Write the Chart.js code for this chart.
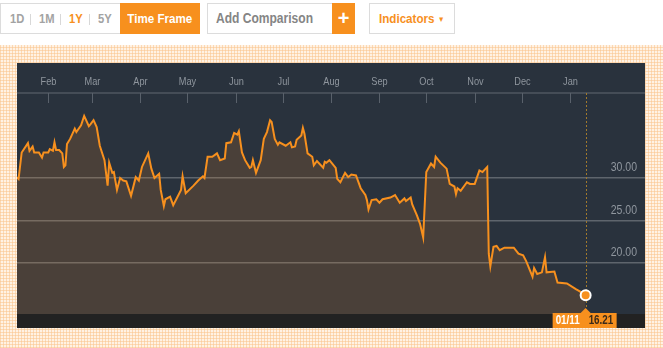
<!DOCTYPE html>
<html>
<head>
<meta charset="utf-8">
<script src="https://cdn.jsdelivr.net/npm/chart.js@4/dist/chart.umd.min.js"></script>
<style>
  html, body { margin: 0; padding: 0; background: #fff; width: 663px; height: 348px; overflow: hidden;
    font-family: "Liberation Sans", Arial, sans-serif; }
  .box { position: absolute; top: 3px; height: 31px; box-sizing: border-box; border: 1px solid #dcdcdc; background: #fff; }
  .lbl { position: absolute; top: 0; line-height: 29px; font-size: 13px; font-weight: bold; color: #a3a3a3;
    white-space: nowrap; transform: scaleX(0.86); transform-origin: 0 50%; }
  .btn { position: absolute; top: -1px; height: 31px; line-height: 31px; background: #f7901e; color: #fff;
    text-align: center; font-weight: bold; white-space: nowrap; }
  .btn span { display: inline-block; transform: scaleX(0.86); }
  .sep { position: absolute; top: 10px; width: 1px; height: 11px; background: #d8d8d8; }
  #pattern { position: absolute; left: 0; top: 45px; width: 663px; height: 303px; background-color: #fff2e4;
    background-image:
      repeating-linear-gradient(0deg, rgba(250, 196, 140, .55) 0 1px, transparent 1px 3px),
      repeating-linear-gradient(90deg, rgba(250, 196, 140, .55) 0 1px, transparent 1px 3px); }
  #panel { position: absolute; left: 17px; top: 63px; width: 628px; height: 265px; }
</style>
</head>
<body>
<div class="box" style="left:0;width:200px;">
  <span class="lbl" style="left:9px;">1D</span>
  <span class="sep" style="left:29px;"></span>
  <span class="lbl" style="left:38px;">1M</span>
  <span class="sep" style="left:59px;"></span>
  <span class="lbl" style="left:68px;color:#f7901e;">1Y</span>
  <span class="sep" style="left:88px;"></span>
  <span class="lbl" style="left:97px;">5Y</span>
  <div class="btn" style="left:119px;width:80px;font-size:13.5px;"><span>Time Frame</span></div>
</div>
<div class="box" style="left:207px;width:148px;">
  <span class="lbl" style="left:8px;color:#858585;font-size:14px;">Add Comparison</span>
  <div class="btn" style="left:124px;width:23px;font-size:20px;line-height:30px;">+</div>
</div>
<div class="box" style="left:369px;width:86px;">
  <span class="lbl" style="left:9px;color:#f7901e;font-size:13.5px;">Indicators <span style="font-size:8px;vertical-align:1px;">&#9660;</span></span>
</div>
<div id="pattern"></div>
<div id="panel"><canvas id="priceChart" width="628" height="265"></canvas></div>

<script>
// price history
const dates = [
  '2015-01-12','2015-01-13','2015-01-15','2015-01-19','2015-01-20','2015-01-22','2015-01-23','2015-01-26','2015-01-28','2015-01-29',
  '2015-02-01','2015-02-02','2015-02-04','2015-02-05','2015-02-06','2015-02-08','2015-02-10','2015-02-11','2015-02-12','2015-02-13',
  '2015-02-15','2015-02-18','2015-02-19','2015-02-22','2015-02-24','2015-02-27','2015-02-28','2015-03-02','2015-03-04','2015-03-06',
  '2015-03-09','2015-03-11','2015-03-12','2015-03-14','2015-03-15','2015-03-17','2015-03-19','2015-03-21','2015-03-23','2015-03-26',
  '2015-03-29','2015-03-31','2015-04-02','2015-04-06','2015-04-08','2015-04-10','2015-04-13','2015-04-14','2015-04-16','2015-04-17',
  '2015-04-20','2015-04-22','2015-04-27','2015-04-28','2015-04-30','2015-05-05','2015-05-08','2015-05-11','2015-05-12','2015-05-14',
  '2015-05-17','2015-05-20','2015-05-22','2015-05-25','2015-05-26','2015-05-29','2015-05-31','2015-06-02','2015-06-03','2015-06-05',
  '2015-06-07','2015-06-10','2015-06-11','2015-06-12','2015-06-14','2015-06-17','2015-06-19','2015-06-21','2015-06-23','2015-06-24',
  '2015-06-26','2015-06-28','2015-06-29','2015-07-03','2015-07-06','2015-07-07','2015-07-09','2015-07-10','2015-07-13','2015-07-14',
  '2015-07-15','2015-07-17','2015-07-20','2015-07-21','2015-07-23','2015-07-27','2015-07-28','2015-07-29','2015-07-31','2015-08-04',
  '2015-08-05','2015-08-07','2015-08-10','2015-08-12','2015-08-14','2015-08-17','2015-08-20','2015-08-23','2015-08-24','2015-08-25',
  '2015-08-27','2015-08-30','2015-09-01','2015-09-03','2015-09-08','2015-09-11','2015-09-14','2015-09-17','2015-09-18','2015-09-21',
  '2015-09-22','2015-09-25','2015-09-27','2015-09-29','2015-10-01','2015-10-04','2015-10-06','2015-10-07','2015-10-10','2015-10-14',
  '2015-10-16','2015-10-19','2015-10-20','2015-10-21','2015-10-23','2015-10-27','2015-10-29','2015-11-01','2015-11-04','2015-11-06',
  '2015-11-08','2015-11-09','2015-11-10','2015-11-11','2015-11-13','2015-11-15','2015-11-17','2015-11-20','2015-11-26','2015-11-29',
  '2015-12-02','2015-12-04','2015-12-08','2015-12-09','2015-12-11','2015-12-14','2015-12-16','2015-12-17','2015-12-22','2015-12-24',
  '2015-12-30','2016-01-05','2016-01-07','2016-01-11'
];
const prices = [
  30.1, 29.9, 33.0, 34.1, 33.2, 33.7, 33.0, 33.0, 32.4, 33.0,
  33.0, 33.4, 33.2, 34.2, 33.3, 33.3, 32.9, 31.3, 31.5, 34.0,
  34.6, 35.8, 35.4, 36.2, 37.3, 36.1, 36.3, 36.8, 36.0, 33.8,
  32.1, 29.1, 31.8, 30.6, 30.7, 28.6, 30.0, 29.7, 29.6, 27.9,
  30.1, 29.7, 31.3, 32.9, 31.1, 30.0, 30.5, 28.6, 26.7, 27.5,
  27.8, 26.8, 28.6, 30.2, 28.2, 29.1, 29.7, 30.2, 30.0, 32.5,
  32.5, 32.9, 32.1, 32.3, 34.1, 34.2, 35.3, 35.1, 35.5, 33.0,
  32.1, 31.2, 31.3, 32.1, 30.6, 32.1, 34.6, 35.4, 36.8, 36.6,
  34.6, 33.9, 34.2, 33.8, 34.2, 33.6, 33.7, 34.5, 35.0, 35.9,
  35.2, 32.9, 32.5, 31.5, 32.0, 31.2, 31.9, 31.8, 32.1, 31.2,
  29.9, 29.5, 30.6, 30.1, 30.4, 30.3, 28.8, 28.0, 27.4, 26.3,
  27.4, 27.5, 27.1, 27.5, 27.7, 28.0, 27.1, 27.6, 27.3, 27.7,
  26.9, 25.6, 24.6, 23.0, 30.7, 31.7, 31.3, 32.5, 31.8, 31.1,
  29.3, 29.0, 28.1, 28.8, 28.5, 29.5, 29.3, 29.3, 30.9, 30.7,
  31.1, 31.3, 21.1, 19.6, 21.9, 22.0, 21.5, 21.8, 21.8, 21.1,
  20.9, 20.2, 18.4, 19.4, 18.7, 18.9, 20.7, 18.9, 19.0, 17.7,
  17.6, 16.9, 16.7, 16.21
];
const monthStarts = ['2015-02-01','2015-03-01','2015-04-01','2015-05-01','2015-06-01','2015-07-01',
                     '2015-08-01','2015-09-01','2015-10-01','2015-11-01','2015-12-01','2016-01-01'];
const monthLabels = ['Feb','Mar','Apr','May','Jun','Jul','Aug','Sep','Oct','Nov','Dec','Jan'];
const yTicks = [20, 25, 30];

const DAY_MS = 86400000;
function dayNum(s) { return Date.parse(s + 'T00:00:00Z') / DAY_MS; }

const last = prices.length - 1;
const orange = '#f7901e';
const labelGrey = '#8f969e';

// text squeezed horizontally, the site uses a condensed face
function squeezed(ctx, text, x, y, align, sx) {
  ctx.save();
  ctx.translate(x, y);
  ctx.scale(sx, 1);
  ctx.textAlign = align;
  ctx.fillText(text, 0, 0);
  ctx.restore();
}

const panelPlugin = {
  id: 'panel',
  beforeDraw(chart) {
    const { ctx, chartArea: a, width, height } = chart;
    ctx.save();
    ctx.fillStyle = '#29323d';
    ctx.fillRect(0, 0, width, height);
    ctx.fillStyle = '#222222';
    ctx.fillRect(0, a.bottom, width, height - a.bottom);
    ctx.restore();
  },
  beforeDatasetsDraw(chart) {
    const { ctx, chartArea: a, scales } = chart;
    const xs = scales.x, ys = scales.y;
    ctx.save();
    // top border
    ctx.strokeStyle = '#454d57';
    ctx.lineWidth = 2;
    ctx.beginPath();
    ctx.moveTo(0, a.top);
    ctx.lineTo(a.right, a.top);
    ctx.stroke();
    // month labels and ticks hanging into the plot
    ctx.strokeStyle = '#59616b';
    ctx.lineWidth = 1;
    ctx.fillStyle = labelGrey;
    ctx.font = '11.5px "Liberation Sans", sans-serif';
    ctx.textBaseline = 'middle';
    xs.ticks.forEach((t, i) => {
      const x = Math.round(xs.getPixelForValue(t.value)) + 0.5;
      ctx.beginPath();
      ctx.moveTo(x, a.top);
      ctx.lineTo(x, a.top + 10);
      ctx.stroke();
      squeezed(ctx, monthLabels[i], x, a.top - 11, 'center', 0.8);
    });
    // price labels sitting above their grid lines
    ctx.font = '12.5px "Liberation Sans", sans-serif';
    ys.ticks.forEach(t => {
      squeezed(ctx, t.value.toFixed(2), a.right - 8, ys.getPixelForValue(t.value) - 10, 'right', 0.84);
    });
    // dotted marker at the latest value
    const px = Math.round(xs.getPixelForValue(dayNum(dates[last]))) + 0.5;
    ctx.strokeStyle = '#a27a2c';
    ctx.setLineDash([2, 2]);
    ctx.beginPath();
    ctx.moveTo(px, a.top);
    ctx.lineTo(px, a.bottom);
    ctx.stroke();
    ctx.restore();
  },
  afterDraw(chart) {
    const { ctx, chartArea: a, height } = chart;
    const pt = chart.getDatasetMeta(0).data[last];
    const x = pt.x;
    const top = a.bottom - 1;
    ctx.save();
    ctx.fillStyle = orange;
    ctx.fillRect(x - 33, top, 64, height - top);
    ctx.beginPath();
    ctx.moveTo(x - 5, top);
    ctx.lineTo(x, top - 5);
    ctx.lineTo(x + 5, top);
    ctx.closePath();
    ctx.fill();
    const d = dates[last].split('-');
    ctx.font = 'bold 12px "Liberation Sans", sans-serif';
    ctx.textBaseline = 'middle';
    ctx.fillStyle = '#ffffff';
    squeezed(ctx, d[1] + '/' + d[2], x - 30, top + 8, 'left', 0.82);
    ctx.fillStyle = '#3a2a1a';
    squeezed(ctx, prices[last].toFixed(2), x + 3, top + 8, 'left', 0.82);
    ctx.restore();
  }
};

new Chart(document.getElementById('priceChart').getContext('2d'), {
  type: 'line',
  data: {
    datasets: [{
      data: dates.map((d, i) => ({ x: dayNum(d), y: prices[i] })),
      borderColor: orange,
      borderWidth: 2,
      backgroundColor: 'rgba(246, 143, 36, 0.16)',
      fill: 'start',
      tension: 0,
      pointRadius: ctx => ctx.dataIndex === last ? 5 : 0,
      pointBackgroundColor: orange,
      pointBorderColor: '#ffffff',
      pointBorderWidth: 2
    }]
  },
  options: {
    responsive: false,
    animation: false,
    devicePixelRatio: 1,
    layout: { autoPadding: false, padding: { bottom: 14 } },
    plugins: { legend: { display: false }, tooltip: { enabled: false } },
    scales: {
      x: {
        type: 'linear',
        position: 'top',
        min: dayNum('2015-01-12'),
        max: dayNum('2016-02-18'),
        afterBuildTicks: s => { s.ticks = monthStarts.map(m => ({ value: dayNum(m) })); },
        afterFit: s => { s.height = 30; },
        grid: { display: false, drawTicks: false },
        border: { display: false },
        ticks: { display: false }
      },
      y: {
        position: 'right',
        min: 14,
        max: 40,
        afterBuildTicks: s => { s.ticks = yTicks.map(v => ({ value: v })); },
        afterFit: s => { s.width = 0; },
        grid: { color: '#5e656d', lineWidth: 1.5, drawTicks: false },
        border: { display: false },
        ticks: { display: false }
      }
    }
  },
  plugins: [panelPlugin]
});
</script>
</body>
</html>
